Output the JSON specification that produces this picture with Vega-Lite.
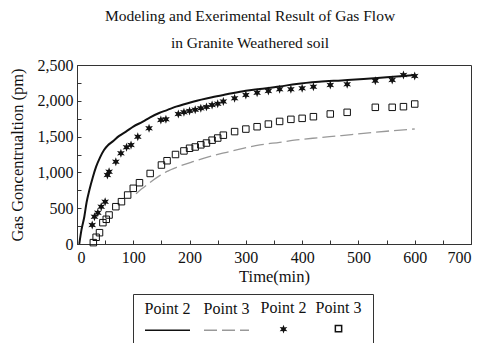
{
  "$schema": "https://vega.github.io/schema/vega-lite/v6.json",
  "width": 394,
  "height": 179,
  "autosize": {"type": "none"},
  "padding": {"left": 77, "top": 65, "right": 16, "bottom": 99},
  "background": "white",
  "title": {
    "text": ["Modeling and Exerimental Result of Gas Flow", "in Granite Weathered soil"],
    "font": "Liberation Serif", "fontSize": 15.5, "fontWeight": "normal", "color": "#111",
    "anchor": "middle", "dx": -24, "offset": 6, "lineHeight": 27
  },
  "config": {
    "view": {"stroke": "#333", "strokeWidth": 1},
    "axis": {
      "labelFont": "Liberation Serif", "labelFontSize": 16, "labelColor": "#111",
      "titleFont": "Liberation Serif", "titleFontSize": 16.5, "titleFontWeight": "normal", "titleColor": "#111",
      "domainColor": "#333", "tickColor": "#333", "tickSize": -4, "grid": false, "labelOverlap": false
    }
  },
  "data": {"values": [
    {"series": "M2", "t": 4, "c": 0}, {"series": "M2", "t": 8, "c": 200}, {"series": "M2", "t": 13, "c": 381},
    {"series": "M2", "t": 17, "c": 580}, {"series": "M2", "t": 22, "c": 754}, {"series": "M2", "t": 28, "c": 930},
    {"series": "M2", "t": 34, "c": 1080}, {"series": "M2", "t": 41, "c": 1210}, {"series": "M2", "t": 48, "c": 1313},
    {"series": "M2", "t": 55, "c": 1380}, {"series": "M2", "t": 63, "c": 1430}, {"series": "M2", "t": 75, "c": 1510},
    {"series": "M2", "t": 87, "c": 1569}, {"series": "M2", "t": 100, "c": 1640}, {"series": "M2", "t": 117, "c": 1709},
    {"series": "M2", "t": 130, "c": 1770}, {"series": "M2", "t": 146, "c": 1830}, {"series": "M2", "t": 160, "c": 1870},
    {"series": "M2", "t": 176, "c": 1918}, {"series": "M2", "t": 206, "c": 1988}, {"series": "M2", "t": 240, "c": 2050},
    {"series": "M2", "t": 266, "c": 2090}, {"series": "M2", "t": 300, "c": 2140}, {"series": "M2", "t": 325, "c": 2165},
    {"series": "M2", "t": 360, "c": 2200}, {"series": "M2", "t": 390, "c": 2235}, {"series": "M2", "t": 430, "c": 2265},
    {"series": "M2", "t": 470, "c": 2285}, {"series": "M2", "t": 509, "c": 2305}, {"series": "M2", "t": 550, "c": 2330},
    {"series": "M2", "t": 580, "c": 2348}, {"series": "M2", "t": 600, "c": 2360},

    {"series": "M3", "t": 105, "c": 700}, {"series": "M3", "t": 115, "c": 770}, {"series": "M3", "t": 125, "c": 830},
    {"series": "M3", "t": 135, "c": 890}, {"series": "M3", "t": 147, "c": 955}, {"series": "M3", "t": 159, "c": 1010},
    {"series": "M3", "t": 180, "c": 1080}, {"series": "M3", "t": 206, "c": 1150}, {"series": "M3", "t": 235, "c": 1220},
    {"series": "M3", "t": 266, "c": 1281}, {"series": "M3", "t": 295, "c": 1335}, {"series": "M3", "t": 325, "c": 1383},
    {"series": "M3", "t": 360, "c": 1420}, {"series": "M3", "t": 390, "c": 1453}, {"series": "M3", "t": 430, "c": 1485},
    {"series": "M3", "t": 470, "c": 1515}, {"series": "M3", "t": 509, "c": 1546}, {"series": "M3", "t": 550, "c": 1575},
    {"series": "M3", "t": 600, "c": 1606},

    {"series": "E2", "t": 27, "c": 265}, {"series": "E2", "t": 31, "c": 381}, {"series": "E2", "t": 37, "c": 437},
    {"series": "E2", "t": 43, "c": 521}, {"series": "E2", "t": 50, "c": 591}, {"series": "E2", "t": 54, "c": 964},
    {"series": "E2", "t": 57, "c": 1010}, {"series": "E2", "t": 69, "c": 1150}, {"series": "E2", "t": 78, "c": 1267},
    {"series": "E2", "t": 88, "c": 1350}, {"series": "E2", "t": 96, "c": 1383}, {"series": "E2", "t": 108, "c": 1499},
    {"series": "E2", "t": 128, "c": 1616}, {"series": "E2", "t": 149, "c": 1732}, {"series": "E2", "t": 158, "c": 1741},
    {"series": "E2", "t": 180, "c": 1815}, {"series": "E2", "t": 190, "c": 1840}, {"series": "E2", "t": 200, "c": 1858},
    {"series": "E2", "t": 210, "c": 1875}, {"series": "E2", "t": 220, "c": 1895}, {"series": "E2", "t": 230, "c": 1915},
    {"series": "E2", "t": 240, "c": 1940}, {"series": "E2", "t": 250, "c": 1960}, {"series": "E2", "t": 260, "c": 1990},
    {"series": "E2", "t": 280, "c": 2035}, {"series": "E2", "t": 300, "c": 2081}, {"series": "E2", "t": 320, "c": 2113},
    {"series": "E2", "t": 340, "c": 2137}, {"series": "E2", "t": 360, "c": 2160}, {"series": "E2", "t": 380, "c": 2160},
    {"series": "E2", "t": 400, "c": 2174}, {"series": "E2", "t": 420, "c": 2197}, {"series": "E2", "t": 450, "c": 2220},
    {"series": "E2", "t": 480, "c": 2230}, {"series": "E2", "t": 530, "c": 2281}, {"series": "E2", "t": 560, "c": 2290},
    {"series": "E2", "t": 580, "c": 2360}, {"series": "E2", "t": 600, "c": 2346},

    {"series": "E3", "t": 29, "c": 19}, {"series": "E3", "t": 34, "c": 94}, {"series": "E3", "t": 40, "c": 158},
    {"series": "E3", "t": 46, "c": 298}, {"series": "E3", "t": 52, "c": 345}, {"series": "E3", "t": 57, "c": 405},
    {"series": "E3", "t": 69, "c": 521}, {"series": "E3", "t": 79, "c": 591}, {"series": "E3", "t": 90, "c": 684},
    {"series": "E3", "t": 100, "c": 778}, {"series": "E3", "t": 111, "c": 856}, {"series": "E3", "t": 130, "c": 985},
    {"series": "E3", "t": 150, "c": 1103}, {"series": "E3", "t": 160, "c": 1163}, {"series": "E3", "t": 175, "c": 1250},
    {"series": "E3", "t": 190, "c": 1300}, {"series": "E3", "t": 200, "c": 1337}, {"series": "E3", "t": 210, "c": 1355},
    {"series": "E3", "t": 220, "c": 1385}, {"series": "E3", "t": 230, "c": 1410}, {"series": "E3", "t": 240, "c": 1450},
    {"series": "E3", "t": 250, "c": 1480}, {"series": "E3", "t": 260, "c": 1520}, {"series": "E3", "t": 280, "c": 1570},
    {"series": "E3", "t": 300, "c": 1605}, {"series": "E3", "t": 320, "c": 1638}, {"series": "E3", "t": 340, "c": 1675},
    {"series": "E3", "t": 360, "c": 1712}, {"series": "E3", "t": 380, "c": 1741}, {"series": "E3", "t": 400, "c": 1755},
    {"series": "E3", "t": 420, "c": 1778}, {"series": "E3", "t": 450, "c": 1816}, {"series": "E3", "t": 480, "c": 1839},
    {"series": "E3", "t": 530, "c": 1909}, {"series": "E3", "t": 560, "c": 1909}, {"series": "E3", "t": 580, "c": 1918},
    {"series": "E3", "t": 600, "c": 1955}
  ]},
  "encoding": {
    "x": {
      "field": "t", "type": "quantitative",
      "scale": {"domain": [0, 700], "nice": false},
      "axis": {
        "title": "Time(min)", "values": [0,50,100,150,200,250,300,350,400,450,500,550,600,650,700],
        "labelExpr": "datum.value % 100 == 0 ? datum.label : ''",
        "labelPadding": 9, "titlePadding": 3
      }
    },
    "y": {
      "field": "c", "type": "quantitative",
      "scale": {"domain": [0, 2500], "nice": false},
      "axis": {
        "title": "Gas Goncentrualtion (pm)", "values": [0,250,500,750,1000,1250,1500,1750,2000,2250,2500],
        "labelExpr": "datum.value % 500 == 0 ? format(datum.value, ',') : ''",
        "labelPadding": 8, "titlePadding": 12
      }
    },
    "color": {
      "field": "series", "type": "nominal",
      "scale": {"domain": ["M2", "M3", "E2", "E3"], "range": ["#111111", "#999999", "#111111", "#111111"]},
      "legend": {
        "title": null, "orient": "none", "legendX": 56, "legendY": 229,
        "direction": "horizontal", "columns": 4, "columnPadding": 8,
        "symbolSize": 2025, "symbolStrokeWidth": 1.5, "labelOffset": -23.5, "labelAlign": "center",
        "labelFont": "Liberation Serif", "labelFontSize": 16, "labelColor": "#111",
        "labelExpr": "'Point ' + slice(datum.label, 1)",
        "strokeColor": "#333", "fillColor": "white", "padding": 11,
        "encode": {
          "labels": {"update": {"dy": {"value": -21}}},
          "symbols": {"update": {
            "shape": {"signal": "datum.value == 'E2' ? 'M0,-0.1L0.022,-0.04L0.087,-0.05L0.045,0L0.087,0.05L0.022,0.04L0,0.1L-0.022,0.04L-0.087,0.05L-0.045,0L-0.087,-0.05L-0.022,-0.04Z' : datum.value == 'E3' ? 'M-0.14,-0.14L0.14,-0.14L0.14,0.14L-0.14,0.14Z' : 'stroke'"},
            "stroke": {"signal": "datum.value == 'M3' ? '#999999' : '#111111'"},
            "fill": {"signal": "datum.value == 'E2' ? '#111111' : 'white'"},
            "fillOpacity": {"signal": "datum.value == 'E2' ? 1 : 0"},
            "strokeDash": {"signal": "datum.value == 'M3' ? [13, 5] : [1, 0]"},
            "opacity": {"value": 1}
          }}
        }
      }
    }
  },
  "layer": [
    {
      "transform": [{"filter": "datum.series == 'M2'"}],
      "mark": {"type": "line", "strokeWidth": 2, "interpolate": "monotone"}
    },
    {
      "transform": [{"filter": "datum.series == 'M3'"}],
      "mark": {"type": "line", "strokeWidth": 1.3, "strokeDash": [13, 5], "interpolate": "monotone"}
    },
    {
      "transform": [{"filter": "datum.series == 'E2'"}],
      "mark": {"type": "point", "shape": "M0,-1L0.225,-0.39L0.866,-0.5L0.45,0L0.866,0.5L0.225,0.39L0,1L-0.225,0.39L-0.866,0.5L-0.45,0L-0.866,-0.5L-0.225,-0.39Z", "filled": true, "size": 80, "opacity": 1}
    },
    {
      "transform": [{"filter": "datum.series == 'E3'"}],
      "mark": {"type": "point", "shape": "square", "filled": false, "size": 42, "strokeWidth": 1, "opacity": 1}
    }
  ]
}
